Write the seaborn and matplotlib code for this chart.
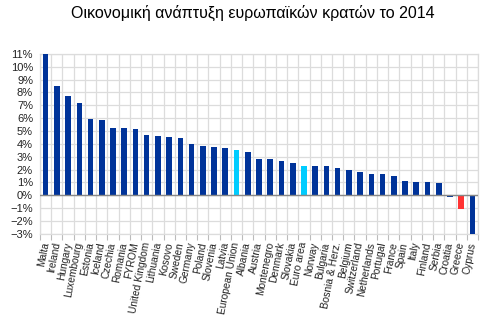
import matplotlib
matplotlib.use("Agg")
import matplotlib.pyplot as plt
import seaborn as sns
import pandas as pd
import numpy as np
from matplotlib.ticker import FixedLocator, PercentFormatter

countries = ["Malta", "Ireland", "Hungary", "Luxembourg", "Estonia", "Iceland", "Czechia",
             "Romania", "FYROM", "United Kingdom", "Lithuania", "Kosovo", "Sweden", "Germany",
             "Poland", "Slovenia", "Latvia", "European Union", "Albania", "Austria",
             "Montenegro", "Denmark", "Slovakia", "Euro area", "Norway", "Bulgaria",
             "Bosnia & Herz.", "Belgium", "Switzerland", "Netherlands", "Portugal", "France",
             "Spain", "Italy", "Finland", "Serbia", "Croatia", "Greece", "Cyprus"]
growth = [11.0, 8.5, 7.7, 7.15, 5.95, 5.85, 5.25, 5.2, 5.15, 4.7, 4.6, 4.5, 4.45, 4.0,
          3.85, 3.75, 3.65, 3.5, 3.35, 2.85, 2.85, 2.65, 2.55, 2.3, 2.3, 2.3, 2.15, 2.0,
          1.8, 1.65, 1.65, 1.5, 1.15, 1.05, 1.05, 0.95, -0.1, -1.1, -3.0]

dark = "#003399"
light = "#00ccff"
red = "#ff3333"
colors = [light if c in ("European Union", "Euro area") else red if c == "Greece" else dark
          for c in countries]

df = pd.DataFrame({"country": countries, "growth": growth})

plt.rcParams['font.family'] = ['Liberation Sans', 'DejaVu Sans']
fig = plt.figure(figsize=(5.0, 3.23), dpi=100)
ax = fig.add_axes([0.08, 0.276, 0.876, 0.557])

sns.barplot(data=df, x="country", y="growth", hue="country", palette=colors,
            legend=False, width=0.5, ax=ax, saturation=1, zorder=3)

n = len(countries)
ax.set_xlim(-0.5, n - 0.5)
ax.set_ylim(-3, 11)
ax.yaxis.set_major_locator(FixedLocator(np.arange(-3, 12, 1)))
ax.yaxis.set_major_formatter(PercentFormatter(decimals=0))
ax.set_xlabel("")
ax.set_ylabel("")

# gridlines
for y in np.arange(-3, 12, 1):
    ax.axhline(y, color="#dcdcdc", lw=0.9, zorder=1)
for x in np.arange(-0.5, n, 1):
    ax.axvline(x, color="#dcdcdc", lw=0.9, zorder=1)
ax.axhline(0, color="#888888", lw=1.0, zorder=4)

ax.set_xticks(np.arange(n))
ax.set_xticklabels(countries, rotation=79, ha="right", va="center",
                   rotation_mode="anchor", fontsize=7.3, color="#222222")
ax.tick_params(axis="x", length=0, pad=6)
ax.xaxis.set_minor_locator(FixedLocator(np.arange(-0.5, n, 1)))
ax.tick_params(axis="x", which="minor", length=4, color="#bbbbbb", width=0.8)
ax.tick_params(axis="y", labelsize=8, length=0, pad=5, colors="#222222")

for s in ax.spines.values():
    s.set_color("#dcdcdc")
    s.set_linewidth(0.9)

fig.text(0.506, 0.96, "Οικονομική ανάπτυξη ευρωπαϊκών κρατών το 2014",
         ha="center", va="center", fontsize=11.5)

fig.savefig("out.png", dpi=100)
